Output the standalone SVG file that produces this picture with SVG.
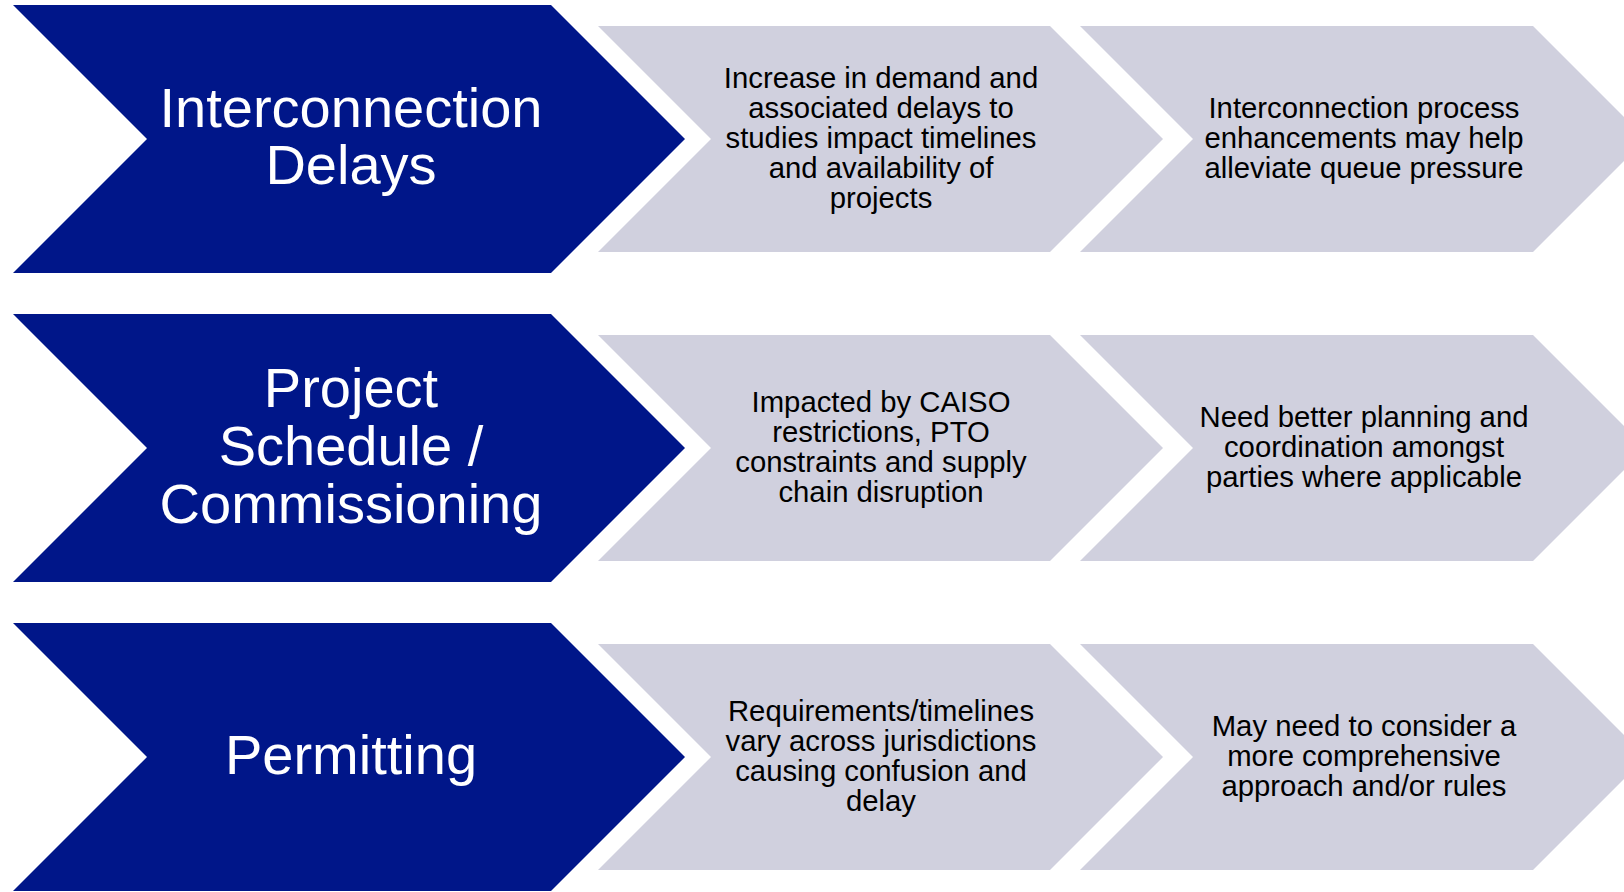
<svg xmlns="http://www.w3.org/2000/svg" width="1624" height="892" viewBox="0 0 1624 892">
<style>
.dark{fill:#001689}
.gray{fill:#D0D0DE}
.title{font-family:"Liberation Sans",Arial,sans-serif;font-size:56px;fill:#FFFFFF;text-anchor:middle}
.body{font-family:"Liberation Sans",Arial,sans-serif;font-size:29.3px;fill:#000000;text-anchor:middle}
</style>
<rect width="1624" height="892" fill="#FFFFFF"/>
<g id="row1-title">
<polygon class="dark" points="13,5 551,5 685,139 551,273 13,273 147,139"/>
<text class="title"><tspan x="351" y="127">Interconnection</tspan><tspan x="351" y="184">Delays</tspan></text>
</g>
<g id="row1-issue">
<polygon class="gray" points="598,26 1050,26 1163,139 1050,252 598,252 711,139"/>
<text class="body"><tspan x="881" y="88">Increase in demand and</tspan><tspan x="881" y="118">associated delays to</tspan><tspan x="881" y="148">studies impact timelines</tspan><tspan x="881" y="178">and availability of</tspan><tspan x="881" y="208">projects</tspan></text>
</g>
<g id="row1-action">
<polygon class="gray" points="1080,26 1533,26 1646,139 1533,252 1080,252 1193,139"/>
<text class="body"><tspan x="1364" y="118">Interconnection process</tspan><tspan x="1364" y="148">enhancements may help</tspan><tspan x="1364" y="178">alleviate queue pressure</tspan></text>
</g>
<g id="row2-title">
<polygon class="dark" points="13,314 551,314 685,448 551,582 13,582 147,448"/>
<text class="title"><tspan x="351" y="407">Project</tspan><tspan x="351" y="465">Schedule /</tspan><tspan x="351" y="523">Commissioning</tspan></text>
</g>
<g id="row2-issue">
<polygon class="gray" points="598,335 1050,335 1163,448 1050,561 598,561 711,448"/>
<text class="body"><tspan x="881" y="412">Impacted by CAISO</tspan><tspan x="881" y="442">restrictions, PTO</tspan><tspan x="881" y="472">constraints and supply</tspan><tspan x="881" y="502">chain disruption</tspan></text>
</g>
<g id="row2-action">
<polygon class="gray" points="1080,335 1533,335 1646,448 1533,561 1080,561 1193,448"/>
<text class="body"><tspan x="1364" y="427">Need better planning and</tspan><tspan x="1364" y="457">coordination amongst</tspan><tspan x="1364" y="487">parties where applicable</tspan></text>
</g>
<g id="row3-title">
<polygon class="dark" points="13,623 551,623 685,757 551,891 13,891 147,757"/>
<text class="title"><tspan x="351" y="774">Permitting</tspan></text>
</g>
<g id="row3-issue">
<polygon class="gray" points="598,644 1050,644 1163,757 1050,870 598,870 711,757"/>
<text class="body"><tspan x="881" y="721">Requirements/timelines</tspan><tspan x="881" y="751">vary across jurisdictions</tspan><tspan x="881" y="781">causing confusion and</tspan><tspan x="881" y="811">delay</tspan></text>
</g>
<g id="row3-action">
<polygon class="gray" points="1080,644 1533,644 1646,757 1533,870 1080,870 1193,757"/>
<text class="body"><tspan x="1364" y="736">May need to consider a</tspan><tspan x="1364" y="766">more comprehensive</tspan><tspan x="1364" y="796">approach and/or rules</tspan></text>
</g>
<g id="connectors"></g>
</svg>
